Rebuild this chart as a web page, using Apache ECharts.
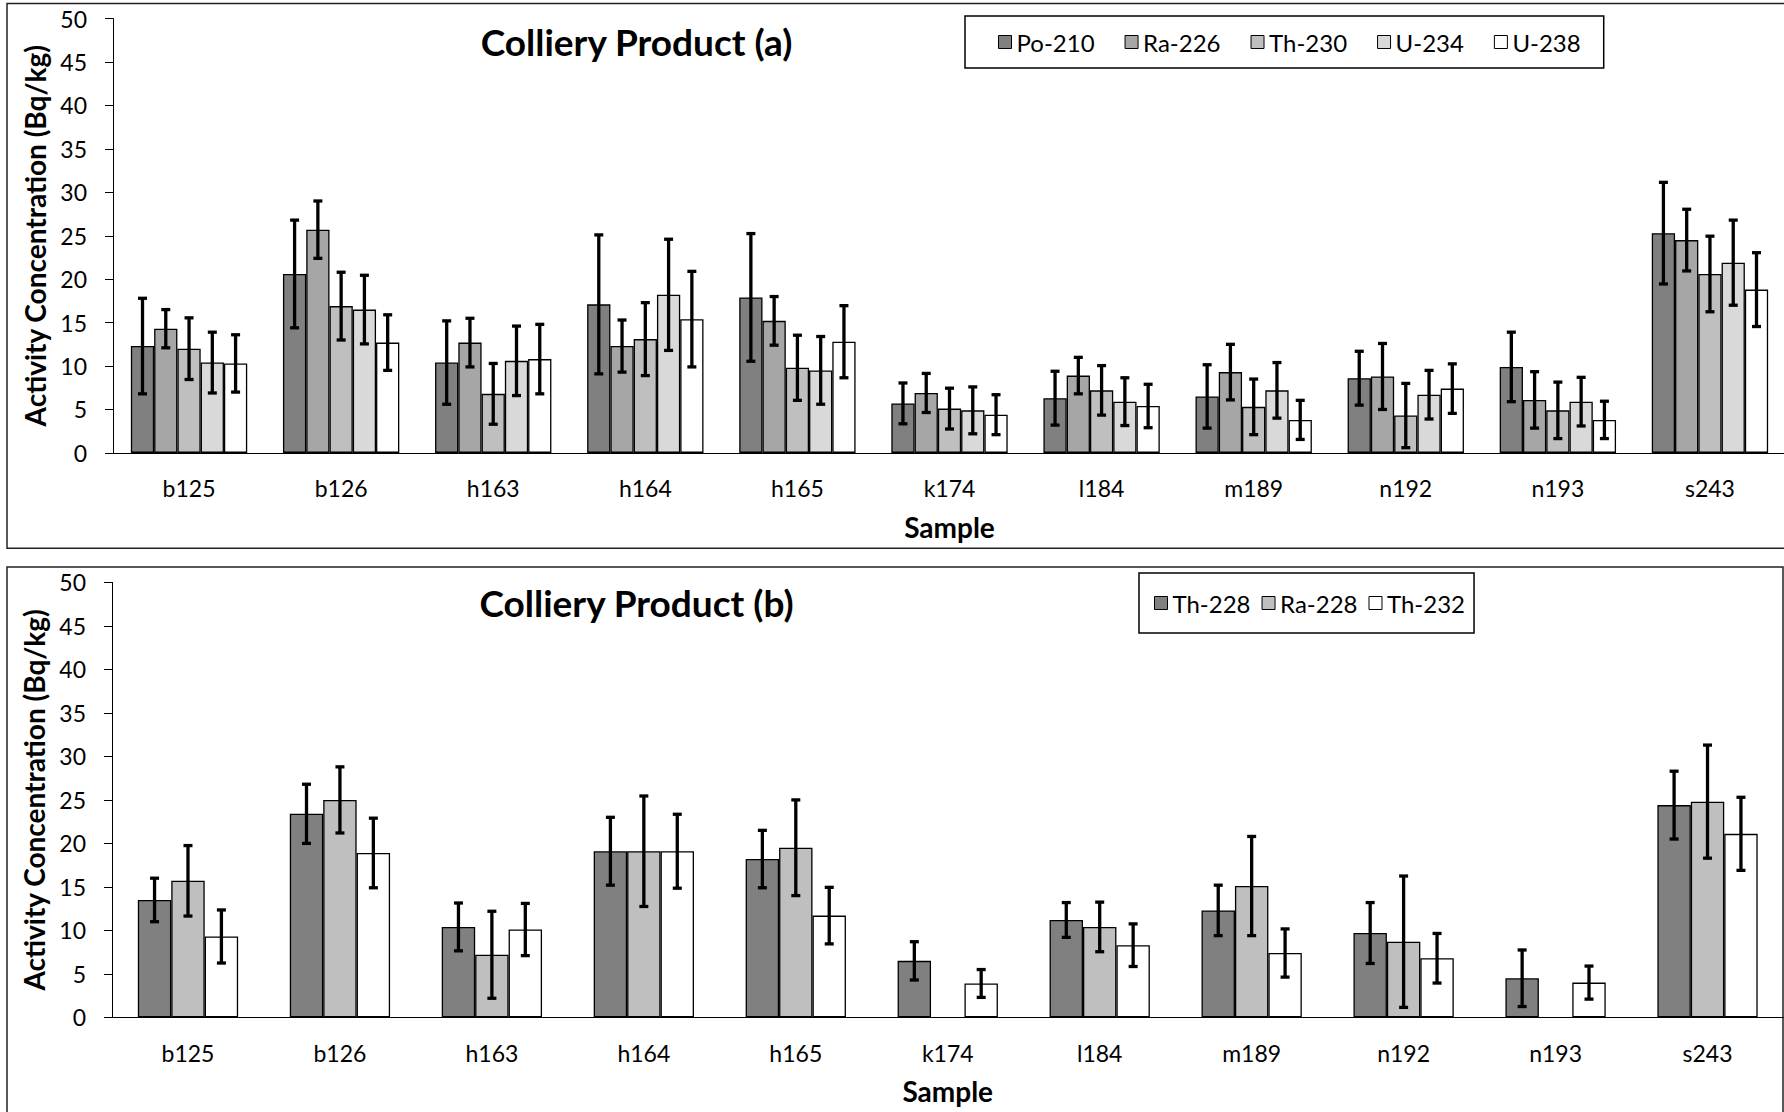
<!DOCTYPE html>
<html>
<head>
<meta charset="utf-8">
<script src="https://cdn.jsdelivr.net/npm/echarts@6/dist/echarts.min.js"></script>
<style>
html,body{margin:0;padding:0;background:#fff;}
#chart{width:1784px;height:1112px;}
</style>
</head>
<body>
<div id="chart"></div>
<script>
// ---------- data ----------
const categories = ['b125','b126','h163','h164','h165','k174','l184','m189','n192','n193','s243'];
const yTicks = [0,5,10,15,20,25,30,35,40,45,50];

// Colliery Product (a)
const po210    = [12.3, 20.6, 10.4, 17.1, 17.9, 5.7, 6.3, 6.5, 8.6, 9.9, 25.3];
const po210Err = [5.5, 6.2, 4.8, 8.0, 7.35, 2.35, 3.1, 3.65, 3.1, 4.0, 5.85];
const ra226    = [14.3, 25.7, 12.7, 12.3, 15.2, 6.9, 8.9, 9.3, 8.8, 6.1, 24.5];
const ra226Err = [2.2, 3.3, 2.8, 3.0, 2.8, 2.25, 2.1, 3.2, 3.8, 3.25, 3.55];
const th230    = [12.0, 16.9, 6.8, 13.1, 9.8, 5.1, 7.2, 5.3, 4.3, 4.9, 20.6];
const th230Err = [3.55, 3.9, 3.5, 4.2, 3.75, 2.35, 2.85, 3.2, 3.7, 3.25, 4.35];
const u234     = [10.4, 16.5, 10.6, 18.2, 9.5, 4.9, 5.9, 7.2, 6.7, 5.9, 21.9];
const u234Err  = [3.5, 3.95, 4.0, 6.4, 3.9, 2.7, 2.75, 3.2, 2.8, 2.8, 4.9];
const u238     = [10.3, 12.7, 10.8, 15.4, 12.8, 4.4, 5.4, 3.8, 7.4, 3.8, 18.8];
const u238Err  = [3.3, 3.2, 4.0, 5.5, 4.15, 2.3, 2.5, 2.25, 2.85, 2.15, 4.25];

// Colliery Product (b)
const th228    = [13.5, 23.4, 10.4, 19.1, 18.2, 6.5, 11.2, 12.3, 9.7, 4.5, 24.4];
const th228Err = [2.5, 3.4, 2.75, 3.9, 3.3, 2.2, 2.0, 2.9, 3.5, 3.25, 3.9];
const ra228    = [15.7, 25.0, 7.2, 19.1, 19.5, null, 10.4, 15.1, 8.7, null, 24.8];
const ra228Err = [4.05, 3.8, 5.0, 6.35, 5.5, null, 2.85, 5.7, 7.55, null, 6.5];
const th232    = [9.3, 18.9, 10.1, 19.1, 11.7, 3.9, 8.3, 7.4, 6.8, 4.0, 21.1];
const th232Err = [3.05, 4.0, 3.0, 4.25, 3.25, 1.6, 2.45, 2.77, 2.85, 1.9, 4.2];

const seriesA = [
  {name:'Po-210', values:po210, errs:po210Err, color:'#808080'},
  {name:'Ra-226', values:ra226, errs:ra226Err, color:'#a6a6a6'},
  {name:'Th-230', values:th230, errs:th230Err, color:'#bfbfbf'},
  {name:'U-234',  values:u234,  errs:u234Err,  color:'#d9d9d9'},
  {name:'U-238',  values:u238,  errs:u238Err,  color:'#ffffff'}
];
const seriesB = [
  {name:'Th-228', values:th228, errs:th228Err, color:'#808080'},
  {name:'Ra-228', values:ra228, errs:ra228Err, color:'#bfbfbf'},
  {name:'Th-232', values:th232, errs:th232Err, color:'#ffffff'}
];

// ---------- chart ----------
const FONT = 'Lato';
const GAP_A = 0.235, GAP_B = 0.34;

function errorSeries(s, k, n, gap, axisIdx) {
  const data = [];
  s.values.forEach((v, i) => {
    if (v != null && s.errs[i] != null) data.push([i, v - s.errs[i], v + s.errs[i]]);
  });
  return {
    type:'custom', name: s.name + ' error', xAxisIndex:axisIdx, yAxisIndex:axisIdx, z:10,
    encode:{x:0, y:[1,2]}, data,
    renderItem(params, api) {
      const i = api.value(0);
      const band = api.size([1, 0])[0];
      const bw = band * (1 - gap) / n;
      const cx = api.coord([i, 0])[0] + (k - (n - 1) / 2) * bw;
      const yLo = api.coord([i, api.value(1)])[1];
      const yHi = api.coord([i, api.value(2)])[1];
      const c = 4.5, st = {stroke:'#000', lineWidth:3.3};
      return {type:'group', children:[
        {type:'line', shape:{x1:cx, y1:yLo, x2:cx, y2:yHi}, style:st},
        {type:'line', shape:{x1:cx-c, y1:yHi, x2:cx+c, y2:yHi}, style:st},
        {type:'line', shape:{x1:cx-c, y1:yLo, x2:cx+c, y2:yLo}, style:st}
      ]};
    }
  };
}

function barSeries(list, gap, axisIdx) {
  const out = [];
  list.forEach((s) => {
    out.push({
      type:'bar', name:s.name, xAxisIndex:axisIdx, yAxisIndex:axisIdx,
      data:s.values, barGap:'0%', barCategoryGap:(gap*100)+'%',
      itemStyle:{color:s.color, borderColor:'#000', borderWidth:1.3},
      emphasis:{disabled:true}
    });
  });
  list.forEach((s, k) => out.push(errorSeries(s, k, list.length, gap, axisIdx)));
  return out;
}

function xAxis(gridIndex) {
  return {
    type:'category', gridIndex, data:categories,
    axisLine:{lineStyle:{color:'#000', width:1}},
    axisTick:{length:10, lineStyle:{color:'#000'}},
    axisLabel:{fontFamily:FONT, fontSize:23, color:'#000', margin:24},
    name:'Sample', nameLocation:'middle', nameGap:60,
    nameTextStyle:{fontFamily:FONT, fontSize:28, fontWeight:'bold', color:'#000'}
  };
}
function yAxis(gridIndex) {
  return {
    type:'value', gridIndex, min:yTicks[0], max:yTicks[yTicks.length-1], interval:yTicks[1]-yTicks[0],
    axisLine:{show:true, lineStyle:{color:'#000', width:1}},
    axisTick:{show:true, length:8, lineStyle:{color:'#000'}},
    splitLine:{show:false},
    axisLabel:{fontFamily:FONT, fontSize:23, color:'#000', margin:26},
    name:'Activity Concentration (Bq/kg)', nameLocation:'middle', nameGap:60,
    nameTextStyle:{fontFamily:FONT, fontSize:28, fontWeight:'bold', color:'#000'}
  };
}

const chart = echarts.init(document.getElementById('chart'), null, {renderer:'svg'});
chart.setOption({
  animation:false,
  backgroundColor:'#fff',
  grid:[
    {left:113, top:18.6, width:1673, height:434.3, containLabel:false, outerBoundsMode:'none'},
    {left:112, top:582.4, width:1671.5, height:435, containLabel:false, outerBoundsMode:'none'}
  ],
  xAxis:[xAxis(0), xAxis(1)],
  yAxis:[yAxis(0), yAxis(1)],
  legend:[
    {
      data:seriesA.map(s => s.name), left:965, top:16, orient:'horizontal',
      padding:[14, 23, 14, 33], itemGap:30, itemWidth:13, itemHeight:13, icon:'rect',
      borderColor:'#000', borderWidth:1.5, selectedMode:false,
      itemStyle:{borderColor:'#000', borderWidth:1},
      textStyle:{fontFamily:FONT, fontSize:24, color:'#000'}
    },
    {
      data:seriesB.map(s => s.name), left:1139, top:573, orient:'horizontal',
      padding:[18, 9, 18, 15], itemGap:11, itemWidth:13, itemHeight:13, icon:'rect',
      borderColor:'#000', borderWidth:1.5, selectedMode:false,
      itemStyle:{borderColor:'#000', borderWidth:1},
      textStyle:{fontFamily:FONT, fontSize:24, color:'#000'}
    }
  ],
  graphic:[
    {type:'rect', shape:{x:7, y:3.6, width:1800, height:544.7}, style:{fill:'none', stroke:'#222', lineWidth:1.5}, silent:true, z:-1},
    {type:'rect', shape:{x:7, y:567, width:1776, height:600}, style:{fill:'none', stroke:'#222', lineWidth:1.5}, silent:true, z:-1},
    {type:'text', x:636.5, y:41, style:{text:'Colliery Product (a)', font:'bold 37px Lato', fill:'#000', textAlign:'center', textVerticalAlign:'middle'}},
    {type:'text', x:636.5, y:602, style:{text:'Colliery Product (b)', font:'bold 37px Lato', fill:'#000', textAlign:'center', textVerticalAlign:'middle'}}
  ],
  series:[...barSeries(seriesA, GAP_A, 0), ...barSeries(seriesB, GAP_B, 1)]
});
</script>
</body>
</html>
